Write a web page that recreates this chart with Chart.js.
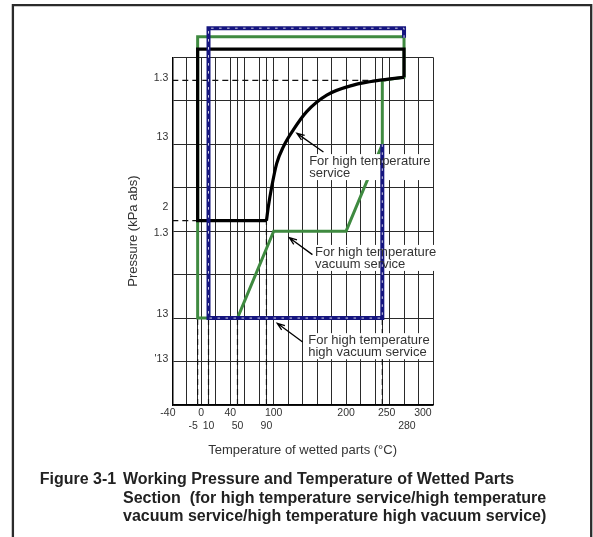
<!DOCTYPE html>
<html>
<head>
<meta charset="utf-8">
<script src="https://cdn.jsdelivr.net/npm/chart.js@4.4.0/dist/chart.umd.min.js"></script>
<style>
  html, body { margin: 0; padding: 0; background: #fff; }
  #wrap { position: relative; width: 593px; height: 537px; }
</style>
</head>
<body>
<div id="wrap"><canvas id="pressureChart" width="593" height="537"></canvas></div>
<script>
// Working pressure vs. temperature of wetted parts
// x = temperature (deg C), y = pressure in grid rows (0 = bottom grid line, 8 = top grid line)

const FONT = "'Liberation Sans', Arial, Helvetica, sans-serif";

// axis ticks
const tempGrid = [-40, -20, 0, 20, 40, 60, 80, 100, 120, 140, 160, 180, 200, 220, 240, 260, 280, 300, 320];
const tempLabelsTop = [-40, 0, 40, 100, 200, 250, 300];
const tempLabelsLow = [-5, 10, 50, 90, 280];
const pressureRows = [0, 1, 2, 3, 4, 5, 6, 7, 8];
const pressureLabelPos = [7.52, 6.16, 4.56, 3.96, 2.1, 1.06];
const pressureLabelText = ['1.3', '13', '2', '1.3', '13', "'13"];

// for high temperature service (black)
const hiTempFrameX = [90, -5, -5, 280, 280];
const hiTempFrameY = [4.24, 4.24, 8.19, 8.19, 7.54];
const hiTempCurveX = [90, 92.6, 97.3, 104.2, 113.3, 127.1, 145.6, 173.3, 210, 250, 280];
const hiTempCurveY = [4.24, 4.56, 5.02, 5.56, 5.94, 6.33, 6.75, 7.13, 7.36, 7.48, 7.54];

// for high temperature vacuum service (green)
const vacX = [50, 100, 200, 250, 250, 280, 280, -5, -5, 50];
const vacY = [2, 4, 4, 6, 7.47, 7.54, 8.47, 8.47, 2, 2];

// for high temperature high vacuum service (blue)
const hiVacX = [280, 280, 10, 10, 250, 250];
const hiVacY = [8.45, 8.67, 8.67, 2, 2, 6];

// dashed guide lines
const guideVX = [-5, 10, 50, 90, 250];
const guideVTop = [2, 2, 2, 4.24, 2];
const guideHY = [7.47, 4.24];
const guideHEnd = [250, -5];

// callouts
const noteText = [
  ['For high temperature', 'service'],
  ['For high temperature', 'vacuum service'],
  ['For high temperature', 'high vacuum service']
];
const noteX = [149, 157, 147.7];
const noteY = [5.52, 3.43, 1.40];
const arrowFromX = [168.7, 153.5, 140];
const arrowFromY = [5.82, 3.46, 1.45];
const arrowToX = [132.1, 121.6, 104.9];
const arrowToY = [6.25, 3.85, 1.88];

const captionLines = [
  'Working Pressure and Temperature of Wetted Parts',
  'Section  (for high temperature service/high temperature',
  'vacuum service/high temperature high vacuum service)'
];

// the printed tick labels sit a little off their ticks; pad with spaces to nudge them
const tempTickText = { '-40': '-40   ', '-5': '-5   ', '250': '   250', '300': '   300', '280': '  280' };

function pts(xs, ys) {
  return xs.map((x, i) => ({ x: x, y: ys[i] }));
}

function lineSet(data, color, width, order, extra) {
  return Object.assign({
    data: data,
    showLine: true,
    borderColor: color,
    borderWidth: width,
    pointRadius: 0,
    fill: false,
    tension: 0,
    clip: false,
    borderJoinStyle: 'miter',
    order: order
  }, extra || {});
}

const datasets = [];
guideVX.forEach((x, i) => {
  datasets.push(lineSet(pts([x, x], [0, guideVTop[i]]), '#111', 1.2, 6, { borderDash: [6, 4] }));
});
guideHY.forEach((y, i) => {
  datasets.push(lineSet(pts([-40, guideHEnd[i]], [y, y]), '#111', 1.2, 6, { borderDash: [6, 4] }));
});
datasets.push(lineSet(pts(vacX, vacY), '#3f8a40', 3, 5));
datasets.push(lineSet(pts(hiTempFrameX, hiTempFrameY), '#000', 3.2, 4));
datasets.push(lineSet(pts(hiTempCurveX, hiTempCurveY), '#000', 3.2, 4, { cubicInterpolationMode: 'monotone' }));
datasets.push(lineSet(pts(hiVacX, hiVacY), '#15157f', 4, 1, { boxesBefore: true }));
datasets.push(lineSet(pts(hiVacX, hiVacY), 'rgba(255,255,255,0.9)', 0.9, 0, { borderDash: [2.5, 5.5] }));

function drawNoteBoxes(chart) {
  const { ctx, scales } = chart;
  ctx.save();
  ctx.font = '13px ' + FONT;
  noteText.forEach((lines, i) => {
    const x = scales.x.getPixelForValue(noteX[i]);
    const y = scales.y.getPixelForValue(noteY[i]);
    const w = Math.max(...lines.map(t => ctx.measureText(t).width));
    ctx.fillStyle = '#fff';
    ctx.fillRect(x - 3, y - 11, w + 5, 12 * (lines.length - 1) + 14);
  });
  ctx.restore();
}

function drawNotes(chart) {
  const { ctx, scales } = chart;
  ctx.save();
  ctx.font = '13px ' + FONT;
  ctx.fillStyle = '#333';
  ctx.textBaseline = 'alphabetic';
  noteText.forEach((lines, i) => {
    const x = scales.x.getPixelForValue(noteX[i]);
    const y = scales.y.getPixelForValue(noteY[i]);
    lines.forEach((t, k) => ctx.fillText(t, x, y + 12 * k));

    // arrow
    const x0 = scales.x.getPixelForValue(arrowFromX[i]);
    const y0 = scales.y.getPixelForValue(arrowFromY[i]);
    const x1 = scales.x.getPixelForValue(arrowToX[i]);
    const y1 = scales.y.getPixelForValue(arrowToY[i]);
    const a = Math.atan2(y1 - y0, x1 - x0);
    ctx.strokeStyle = '#000';
    ctx.lineWidth = 1.3;
    ctx.beginPath();
    ctx.moveTo(x0, y0);
    ctx.lineTo(x1, y1);
    ctx.moveTo(x1 - 8 * Math.cos(a - 0.35), y1 - 8 * Math.sin(a - 0.35));
    ctx.lineTo(x1, y1);
    ctx.lineTo(x1 - 8 * Math.cos(a + 0.35), y1 - 8 * Math.sin(a + 0.35));
    ctx.stroke();
  });
  ctx.restore();
}

function drawFrameAndCaption(chart) {
  const ctx = chart.ctx;
  ctx.save();
  ctx.strokeStyle = '#2b2b2b';
  ctx.lineWidth = 2.3;
  ctx.beginPath();
  ctx.moveTo(12.9, 545);
  ctx.lineTo(12.9, 5.2);
  ctx.lineTo(591.2, 5.2);
  ctx.lineTo(591.2, 545);
  ctx.stroke();

  ctx.fillStyle = '#222';
  ctx.font = 'bold 16px ' + FONT;
  ctx.textBaseline = 'alphabetic';
  ctx.fillText('Figure 3-1', 39.7, 484);
  const base = [484, 502.8, 521.4];
  captionLines.forEach((t, i) => ctx.fillText(t, 123, base[i]));
  ctx.restore();
}

const decorPlugin = {
  id: 'decor',
  beforeDatasetDraw(chart, args) {
    if (chart.data.datasets[args.index].boxesBefore) drawNoteBoxes(chart);
  },
  afterDatasetsDraw(chart) {
    drawNotes(chart);
  },
  afterDraw(chart) {
    drawFrameAndCaption(chart);
  }
};

function gridColor(c) {
  return c.tick && Number.isInteger(c.tick.value) ? '#2a2a2a' : 'rgba(0,0,0,0)';
}

function tempLabel(v) {
  const key = String(v);
  return tempTickText[key] || key;
}

const ctx = document.getElementById('pressureChart').getContext('2d');
new Chart(ctx, {
  type: 'scatter',
  data: { datasets: datasets },
  options: {
    responsive: false,
    animation: false,
    layout: { padding: { left: 125.2, top: 57.3, right: 160, bottom: 79.2 } },
    plugins: { legend: { display: false }, tooltip: { enabled: false } },
    scales: {
      x: {
        type: 'linear',
        min: -40,
        max: 320,
        afterBuildTicks: s => {
          const vals = Array.from(new Set(tempGrid.concat(tempLabelsTop, tempLabelsLow))).sort((a, b) => a - b);
          s.ticks = vals.map(v => ({ value: v }));
        },
        afterFit: s => { s.height = 52.8; },
        grid: { color: gridColor, lineWidth: 1, drawTicks: false },
        border: { color: '#000', width: 1.5 },
        ticks: {
          autoSkip: false,
          maxRotation: 0,
          minRotation: 0,
          padding: 2,
          color: '#333',
          font: { size: 10.5, family: FONT },
          callback: v => {
            if (tempLabelsTop.includes(v)) return tempLabel(v);
            if (tempLabelsLow.includes(v)) return ['', tempLabel(v)];
            return '';
          }
        },
        title: {
          display: true,
          text: 'Temperature of wetted parts (°C)',
          color: '#333',
          font: { size: 13, family: FONT },
          padding: 0
        }
      },
      y: {
        type: 'linear',
        min: 0,
        max: 8,
        afterBuildTicks: s => {
          s.ticks = pressureRows.concat(pressureLabelPos).map(v => ({ value: v }));
        },
        afterFit: s => { s.width = 47.1; },
        grid: { color: gridColor, lineWidth: 1, drawTicks: false },
        border: { color: '#000', width: 1.5 },
        ticks: {
          autoSkip: false,
          padding: 4,
          color: '#333',
          font: { size: 10.5, family: FONT },
          callback: v => {
            const i = pressureLabelPos.findIndex(p => Math.abs(p - v) < 1e-6);
            return i < 0 ? '' : pressureLabelText[i];
          }
        },
        title: {
          display: true,
          text: 'Pressure (kPa abs)',
          color: '#333',
          font: { size: 13, family: FONT },
          padding: 0
        }
      }
    }
  },
  plugins: [decorPlugin]
});
</script>
</body>
</html>
